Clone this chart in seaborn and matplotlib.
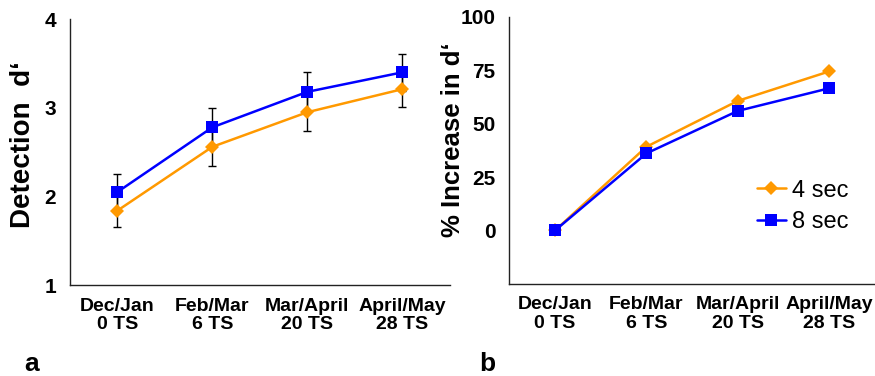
import numpy as np
import pandas as pd
import matplotlib
matplotlib.use("Agg")
import matplotlib.pyplot as plt
import seaborn as sns

categories = ["Dec/Jan\n0 TS", "Feb/Mar\n6 TS", "Mar/April\n20 TS", "April/May\n28 TS"]
series = ["4 sec", "8 sec"]

dprime_4 = [1.84, 2.56, 2.95, 3.21]
dprime_8 = [2.05, 2.78, 3.18, 3.40]
err_4 = [0.19, 0.22, 0.21, 0.20]
err_8 = [0.20, 0.22, 0.22, 0.21]

incr_4 = [0, 39.2, 60.7, 74.5]
incr_8 = [0, 36.1, 56.0, 66.6]

colors = {"4 sec": "#FF9900", "8 sec": "#0000FF"}
markers = {"4 sec": "D", "8 sec": "s"}
sizes = {"4 sec": 7, "8 sec": 8}

df_a = pd.DataFrame({
    "period": categories * 2,
    "pos": list(range(4)) * 2,
    "value": dprime_4 + dprime_8,
    "err": err_4 + err_8,
    "delay": ["4 sec"] * 4 + ["8 sec"] * 4,
})
df_b = pd.DataFrame({
    "period": categories * 2,
    "pos": list(range(4)) * 2,
    "value": incr_4 + incr_8,
    "delay": ["4 sec"] * 4 + ["8 sec"] * 4,
})

sns.set_theme(style="white")
plt.rcParams["font.family"] = ["Liberation Sans", "DejaVu Sans"]
plt.rcParams["text.color"] = "black"
plt.rcParams["axes.labelcolor"] = "black"
plt.rcParams["xtick.color"] = "black"
plt.rcParams["ytick.color"] = "black"

fig = plt.figure(figsize=(8.75, 3.76), dpi=100)
ax1 = fig.add_axes([0.08, 0.242, 0.434, 0.707])
ax2 = fig.add_axes([0.582, 0.245, 0.418, 0.71])

# error bars first so the lines sit on top
for d in series:
    sub = df_a[df_a["delay"] == d]
    ax1.errorbar(sub["pos"], sub["value"], yerr=sub["err"], fmt="none",
                 ecolor="black", elinewidth=1, capsize=3, capthick=1, zorder=1)

for ax, df in [(ax1, df_a), (ax2, df_b)]:
    for d in series:
        sub = df[df["delay"] == d]
        sns.lineplot(data=sub, x="pos", y="value", ax=ax, color=colors[d],
                     marker=markers[d], markersize=sizes[d], markeredgewidth=0,
                     linewidth=1.8, label=d, zorder=3)

    ax.set_xlim(-0.5, 3.5)
    ax.set_xticks(range(4))
    ax.set_xticklabels(categories, fontsize=14, fontweight="bold", linespacing=1.1)
    ax.set_xticks([-0.5, 0.5, 1.5, 2.5], minor=True)
    ax.tick_params(axis="x", which="major", length=0, pad=9)
    ax.tick_params(axis="x", which="minor", length=6, width=1, color="black", direction="out")
    ax.tick_params(axis="y", length=6, width=1, color="black", direction="out",
                   labelsize=15, pad=4)
    ax.set_xlabel("")
    for s in ["top", "right"]:
        ax.spines[s].set_visible(False)
    for s in ["left", "bottom"]:
        ax.spines[s].set_color("#222222")
        ax.spines[s].set_linewidth(1)

ax1.set_ylim(1, 4)
ax1.set_yticks([1, 2, 3, 4])
ax1.set_yticklabels(["1", "2", "3", "4"], fontweight="bold")
ax1.set_ylabel("Detection  d‘", fontsize=20, fontweight="bold")
ax1.yaxis.set_label_coords(-0.09, 0.53)
ax1.get_legend().remove()

ax2.set_ylim(-25, 100)
ax2.set_yticks([-25, 0, 25, 50, 75, 100])
ax2.set_yticklabels(["", "0", "25", "50", "75", "100"], fontweight="bold")
ax2.set_ylabel("% Increase in d‘", fontsize=18.5, fontweight="bold")
ax2.yaxis.set_label_coords(-0.12, 0.54)
ax2.legend(loc="upper left", bbox_to_anchor=(0.62, 0.47), frameon=False,
           fontsize=17, handlelength=1.2, handletextpad=0.25, labelspacing=0.4)

fig.text(0.028, 0.012, "a", fontsize=19, fontweight="bold")
fig.text(0.548, 0.012, "b", fontsize=19, fontweight="bold")

fig.savefig("out.png", dpi=100, facecolor="white")
